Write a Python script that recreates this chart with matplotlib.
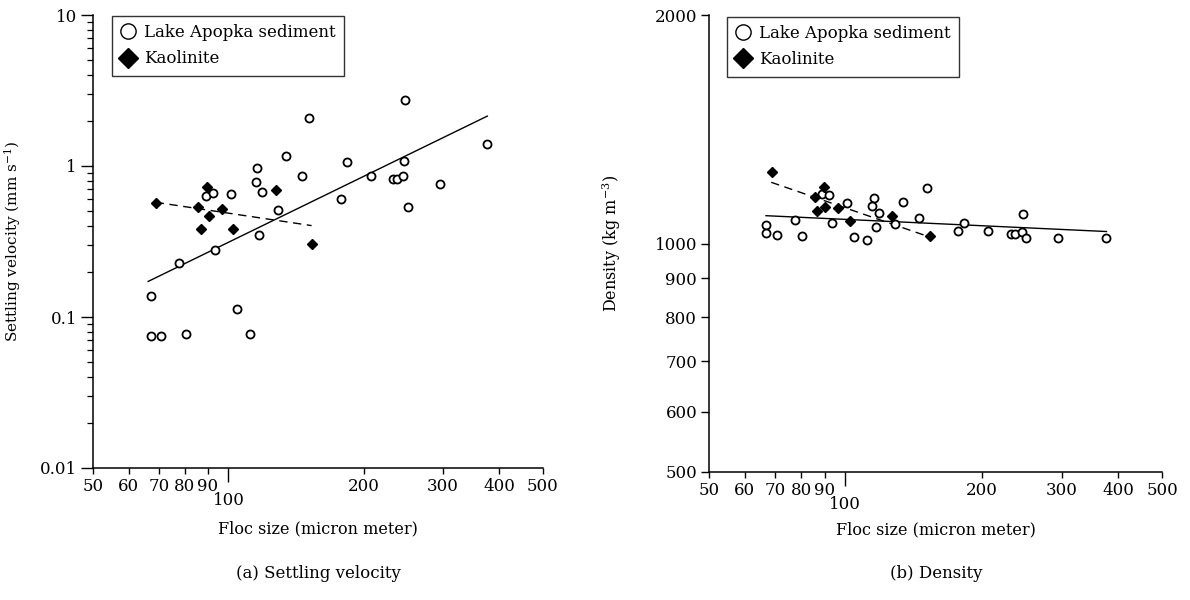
import matplotlib
matplotlib.use("Agg")
import matplotlib.pyplot as plt
from matplotlib.ticker import FixedLocator, FixedFormatter, NullLocator, NullFormatter
from matplotlib.lines import Line2D

plt.rcParams['font.family'] = ['DejaVu Serif']
plt.rcParams['mathtext.fontset'] = 'dejavuserif'

# ---------------- data: (a) settling velocity ----------------
lake_size_v = [247, 151, 376, 134, 183, 116, 246, 146, 207, 232, 237, 244, 295, 251,
               115, 119, 101.5, 89.2, 92.2, 178, 129, 117, 93.3, 77.5, 67.3, 104.3,
               67.2, 70.9, 80.5, 111.8]
lake_vel = [2.74, 2.07, 1.40, 1.17, 1.06, 0.966, 1.084, 0.863, 0.859, 0.817, 0.817, 0.863,
            0.763, 0.538, 0.787, 0.676, 0.653, 0.636, 0.662, 0.602, 0.509, 0.349, 0.278,
            0.227, 0.1377, 0.1124, 0.0748, 0.0748, 0.0772, 0.0772]
kao_size_v = [68.9, 89.8, 127.3, 85.4, 96.6, 90.5, 87.0, 102.4, 153.5]
kao_vel = [0.569, 0.729, 0.693, 0.538, 0.521, 0.469, 0.381, 0.381, 0.306]
lake_fit_v_x = [66.3, 376]
lake_fit_v_y = [0.172, 2.14]
kao_fit_v_x = [68.9, 153]
kao_fit_v_y = [0.575, 0.403]

# ---------------- data: (b) density ----------------
lake_size_d = [66.8, 66.8, 70.8, 77.5, 80.4, 89.0, 92.1, 101, 93.3, 104.3, 111.6, 115.4,
               114.7, 118.6, 116.7, 129, 133.7, 151.6, 145.3, 177.4, 182.5, 206.6, 232,
               237, 245, 247, 251, 294.6, 377]
lake_dens = [1059, 1033, 1027, 1075, 1024, 1162, 1160, 1130, 1065, 1019, 1011, 1148,
             1122, 1097, 1051, 1061, 1133, 1182, 1081, 1039, 1065, 1040, 1030, 1030,
             1037, 1093, 1016, 1016, 1018]
kao_size_d = [68.9, 89.6, 85.5, 90.2, 86.6, 96.4, 102.4, 127, 153.9]
kao_dens = [1241, 1186, 1150, 1116, 1103, 1114, 1072, 1088, 1024]
lake_fit_d_x = [66.8, 377]
lake_fit_d_y = [1088, 1037]
kao_fit_d_x = [68.6, 150.5]
kao_fit_d_y = [1204, 1024]

# ---------------- tick labels / texts ----------------
x_minor_ticks = [50, 60, 70, 80, 90, 200, 300, 400, 500]
x_minor_labels = ['50', '60', '70', '80', '90', '200', '300', '400', '500']
x_major_ticks = [100]
x_major_labels = ['100']
v_ticks = [0.01, 0.1, 1, 10]
v_labels = ['0.01', '0.1', '1', '10']
v_minor = [m * d for d in [0.01, 0.1, 1] for m in range(2, 10)]
d_ticks = [500, 600, 700, 800, 900, 1000, 2000]
d_labels = ['500', '600', '700', '800', '900', '1000', '2000']
series_names = ['Lake Apopka sediment', 'Kaolinite']

W, H = 1190, 600
fig = plt.figure(figsize=(W / 100, H / 100), dpi=100)
axA = fig.add_axes([93 / W, 1 - 468 / H, 450 / W, 453 / H])
axB = fig.add_axes([709 / W, 1 - 472 / H, 453 / W, 457 / H])

TICK_FS = 12
LABEL_FS = 11.5


def style_x(ax):
    ax.set_xscale('log')
    ax.set_xlim(50, 500)
    ax.xaxis.set_major_locator(FixedLocator(x_major_ticks))
    ax.xaxis.set_major_formatter(FixedFormatter(x_major_labels))
    ax.xaxis.set_minor_locator(FixedLocator(x_minor_ticks))
    ax.xaxis.set_minor_formatter(FixedFormatter(x_minor_labels))
    ax.tick_params(axis='x', which='major', direction='out', length=10, width=1,
                   pad=7.5, labelsize=TICK_FS)
    ax.tick_params(axis='x', which='minor', direction='out', length=4.5, width=1,
                   pad=3, labelsize=TICK_FS)
    for s in ['top', 'right']:
        ax.spines[s].set_visible(False)
    for s in ['left', 'bottom']:
        ax.spines[s].set_linewidth(1.1)


def add_legend(ax, x0, y0):
    handles = [
        Line2D([], [], linestyle='none', marker='o', markersize=11,
               markerfacecolor='white', markeredgecolor='black', markeredgewidth=1.0),
        Line2D([], [], linestyle='none', marker='D', markersize=10,
               markerfacecolor='black', markeredgecolor='black'),
    ]
    leg = ax.legend(handles, series_names, loc='upper left', bbox_to_anchor=(x0, y0),
                    borderaxespad=0, frameon=True, fancybox=False, fontsize=12,
                    handlelength=0.9, handletextpad=0.5, labelspacing=0.55,
                    borderpad=0.5, edgecolor='black')
    leg.get_frame().set_linewidth(1.0)


# ---------------- (a) ----------------
ax = axA
style_x(ax)
ax.set_yscale('log')
ax.set_ylim(0.01, 10)
ax.yaxis.set_major_locator(FixedLocator(v_ticks))
ax.yaxis.set_major_formatter(FixedFormatter(v_labels))
ax.yaxis.set_minor_locator(FixedLocator(v_minor))
ax.yaxis.set_minor_formatter(NullFormatter())
ax.tick_params(axis='y', which='major', direction='out', length=8.5, width=1,
               pad=3, labelsize=TICK_FS)
ax.tick_params(axis='y', which='minor', direction='out', length=4, width=0.9)
ax.plot(lake_fit_v_x, lake_fit_v_y, color='black', lw=1.0, zorder=2)
ax.plot(kao_fit_v_x, kao_fit_v_y, color='black', lw=1.0, ls=(0, (6, 4)), zorder=2)
ax.plot(lake_size_v, lake_vel, linestyle='none', marker='o', markersize=5.8,
        markerfacecolor='white', markeredgecolor='black', markeredgewidth=1.3, zorder=3)
ax.plot(kao_size_v, kao_vel, linestyle='none', marker='D', markersize=5.2,
        markerfacecolor='black', markeredgecolor='black', zorder=3)
ax.set_xlabel('Floc size (micron meter)', fontsize=LABEL_FS)
ax.xaxis.set_label_coords(0.5, -0.115)
ax.set_ylabel(r'Settling velocity (mm s$^{-1}$)', fontsize=11)
ax.yaxis.set_label_coords(-0.155, 0.5)
add_legend(ax, 0.042, 0.998)

# ---------------- (b) ----------------
ax = axB
style_x(ax)
ax.set_yscale('log')
ax.set_ylim(500, 2000)
ax.yaxis.set_major_locator(FixedLocator(d_ticks))
ax.yaxis.set_major_formatter(FixedFormatter(d_labels))
ax.yaxis.set_minor_locator(NullLocator())
ax.tick_params(axis='y', which='major', direction='out', length=5.5, width=1,
               pad=3, labelsize=TICK_FS)
ax.plot(lake_fit_d_x, lake_fit_d_y, color='black', lw=1.0, zorder=2)
ax.plot(kao_fit_d_x, kao_fit_d_y, color='black', lw=1.0, ls=(0, (6, 4)), zorder=2)
ax.plot(lake_size_d, lake_dens, linestyle='none', marker='o', markersize=5.8,
        markerfacecolor='white', markeredgecolor='black', markeredgewidth=1.3, zorder=3)
ax.plot(kao_size_d, kao_dens, linestyle='none', marker='D', markersize=5.2,
        markerfacecolor='black', markeredgecolor='black', zorder=3)
ax.set_xlabel('Floc size (micron meter)', fontsize=LABEL_FS)
ax.xaxis.set_label_coords(0.5, -0.108)
ax.set_ylabel(r'Density (kg m$^{-3}$)', fontsize=11.5)
ax.yaxis.set_label_coords(-0.19, 0.5)
add_legend(ax, 0.04, 0.996)

fig.text(318 / W, 1 - 573 / H, '(a) Settling velocity', ha='center', va='center', fontsize=12)
fig.text(936 / W, 1 - 573 / H, '(b) Density', ha='center', va='center', fontsize=12)

fig.savefig('out.png', dpi=100)
